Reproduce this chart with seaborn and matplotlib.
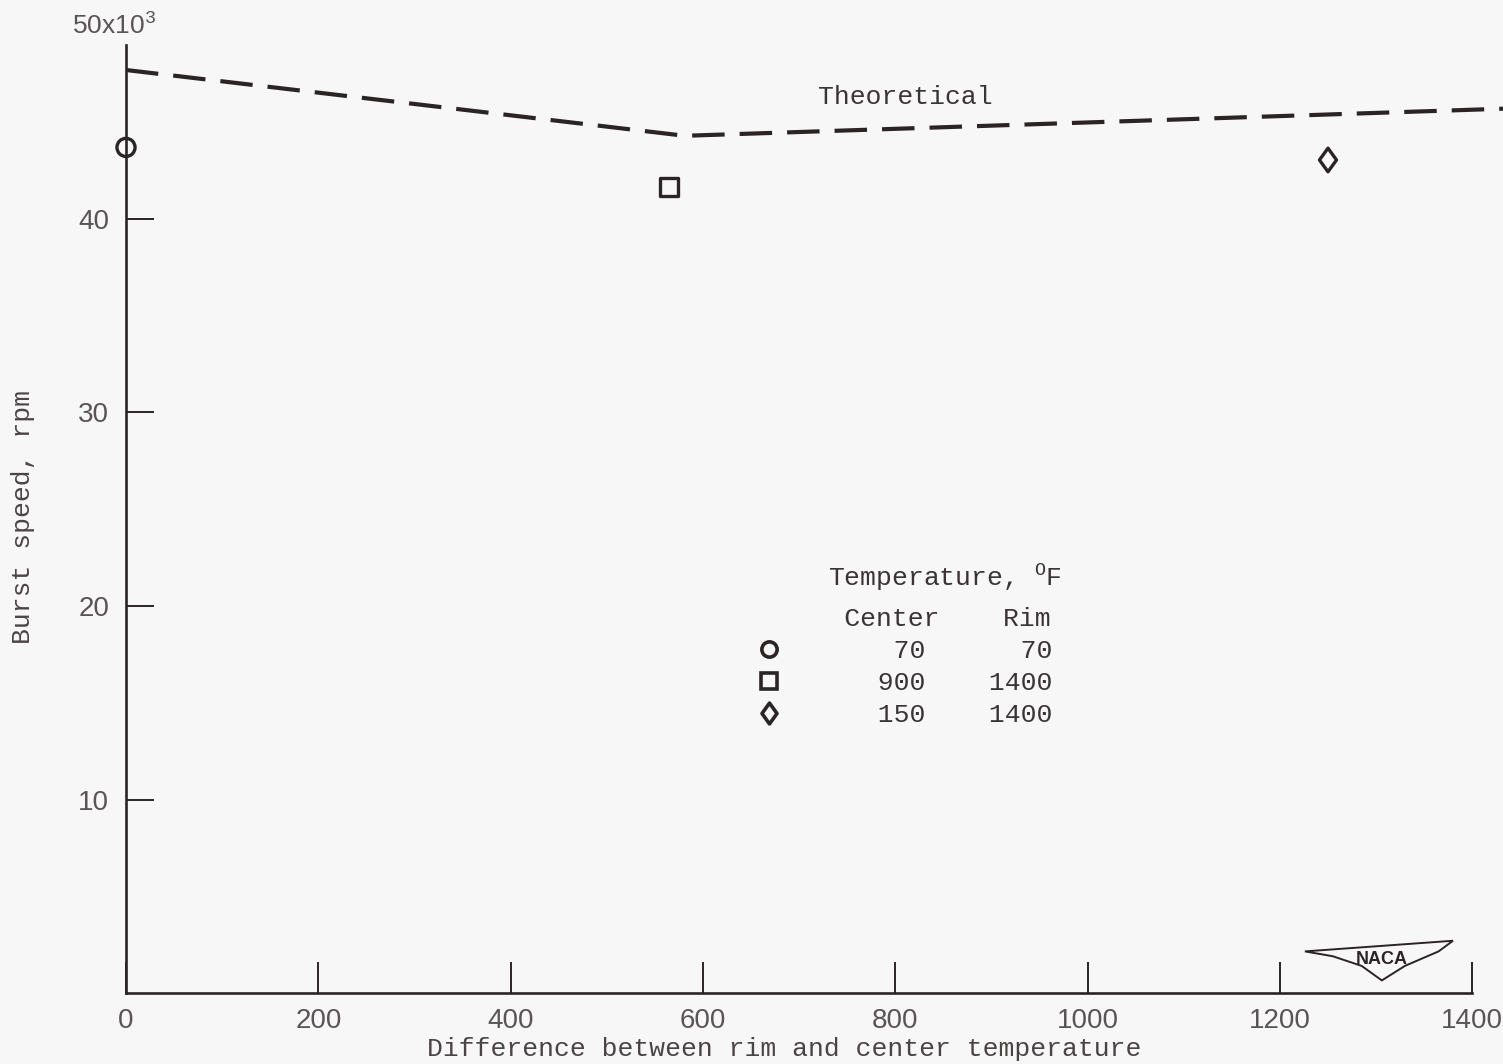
import matplotlib
matplotlib.use("Agg")
import matplotlib.pyplot as plt
from matplotlib.lines import Line2D
from matplotlib.path import Path
from matplotlib.patches import Polygon
import pandas as pd
import seaborn as sns

# theoretical burst speed (straight segments, kink at the minimum)
theory_dt = [0, 581, 1432]
theory_rpm = [47700, 44300, 45700]

# test disks
test_dt = [0, 565, 1250]
test_rpm = [43700, 41650, 43050]
test_case = ["a", "b", "c"]
center_temp = [70, 900, 150]
rim_temp = [70, 1400, 1400]

x_ticks = [0, 200, 400, 600, 800, 1000, 1200, 1400]
y_ticks = [10000, 20000, 30000, 40000]
y_tick_labels = ["10", "20", "30", "40"]

ink = "#2b2424"
paper = "#f7f7f7"
typewriter = "Liberation Mono"
sans = ["Liberation Sans", "DejaVu Sans"]

sns.set_theme(style="ticks")
plt.rcParams["font.family"] = [typewriter, "DejaVu Sans"]
plt.rcParams["mathtext.fontset"] = "custom"
plt.rcParams["mathtext.rm"] = typewriter
plt.rcParams["mathtext.it"] = typewriter

diamond = Path([(0, 1), (0.72, 0), (0, -1), (-0.72, 0), (0, 1)],
               [Path.MOVETO, Path.LINETO, Path.LINETO, Path.LINETO, Path.CLOSEPOLY])
marker_map = {"a": "o", "b": "s", "c": diamond}
size_map = {"a": 170, "b": 170, "c": 290}

fig = plt.figure(figsize=(15.03, 10.64), dpi=100, facecolor=paper)
ax = fig.add_axes([126 / 1503, 71 / 1064, 1377 / 1503, 967.5 / 1064])
ax.set_facecolor(paper)

theory = pd.DataFrame({"dt": theory_dt, "rpm": theory_rpm})
sns.lineplot(data=theory, x="dt", y="rpm", ax=ax, color=ink, lw=3.0,
             dashes=False, linestyle=(0, (7.8, 3.6)))

tests = pd.DataFrame({"dt": test_dt, "rpm": test_rpm, "case": test_case})
for case, grp in tests.groupby("case"):
    sns.scatterplot(data=grp, x="dt", y="rpm", ax=ax, marker=marker_map[case],
                    s=size_map[case], facecolor="none", edgecolor=ink,
                    linewidth=2.4, legend=False, zorder=5, clip_on=False)

ax.set_xlim(0, 1432)
ax.set_ylim(0, 50000)

for side in ["top", "right"]:
    ax.spines[side].set_visible(False)
ax.spines["left"].set_bounds(0, 49000)
ax.spines["bottom"].set_bounds(0, 1400)
for side in ["left", "bottom"]:
    ax.spines[side].set_color(ink)
    ax.spines[side].set_linewidth(1.9)

ax.set_xticks(x_ticks)
ax.set_xticklabels([str(v) for v in x_ticks])
ax.set_yticks(y_ticks)
ax.set_yticklabels(y_tick_labels)
ax.tick_params(axis="x", direction="in", length=22, width=1.4, color=ink,
               pad=11, labelsize=20, labelcolor="#5a5454")
ax.tick_params(axis="y", direction="in", length=20, width=1.4, color=ink,
               pad=12, labelsize=20, labelcolor="#5a5454")
for lab in ax.get_xticklabels() + ax.get_yticklabels():
    lab.set_family(sans)

ax.text(-13, 50000, "50x10$^{3}$", ha="center", va="center", fontsize=19,
        color="#5a5454", family=sans)

ax.set_xlabel("Difference between rim and center temperature", fontsize=19,
              color="#4a4444")
ax.xaxis.set_label_coords(0.478, -0.045)
ax.set_ylabel("Burst speed, rpm", fontsize=19, color="#4a4444")
ax.yaxis.set_label_coords(-0.066, 0.492)

ax.text(720, 46300, "Theoretical", ha="left", va="center", fontsize=19,
        color="#3a3434")

# legend laid out as a small table: title holds the column headers
handles = []
labels = []
for case, c, r in zip(test_case, center_temp, rim_temp):
    handles.append(Line2D([], [], ls="none", marker=marker_map[case],
                          markersize=11 if case != "c" else 15,
                          markerfacecolor="none", markeredgecolor=ink,
                          markeredgewidth=2.6))
    labels.append(f"{c:>5}{r:>8}")
title = "     Temperature, $^{\\rm O}$F\n" + " " * 6 + "Center    Rim"
leg = ax.legend(handles, labels, title=title,
                loc="upper left", bbox_to_anchor=(736 / 1503, 1 - 549 / 1064),
                bbox_transform=fig.transFigure, frameon=False, fontsize=19,
                title_fontsize=19, handlelength=1.5, handletextpad=2.17,
                labelspacing=0.3, borderpad=0, alignment="left")
for t in leg.get_texts():
    t.set_color("#3a3434")
leg.get_title().set_color("#3a3434")
leg.get_title().set_linespacing(1.74)

# NACA wing badge
wing = [(1226, 2150), (1380, 2700), (1365, 2150), (1330, 1400),
        (1306, 650), (1285, 1400), (1255, 1900)]
ax.add_patch(Polygon(wing, closed=True, facecolor=paper, edgecolor=ink,
                     lw=1.4, zorder=4))
ax.text(1306, 1750, "NACA", ha="center", va="center", fontsize=13,
        fontweight="bold", color=ink, family=sans, zorder=5)

fig.savefig("out.png", dpi=100, facecolor=paper)
